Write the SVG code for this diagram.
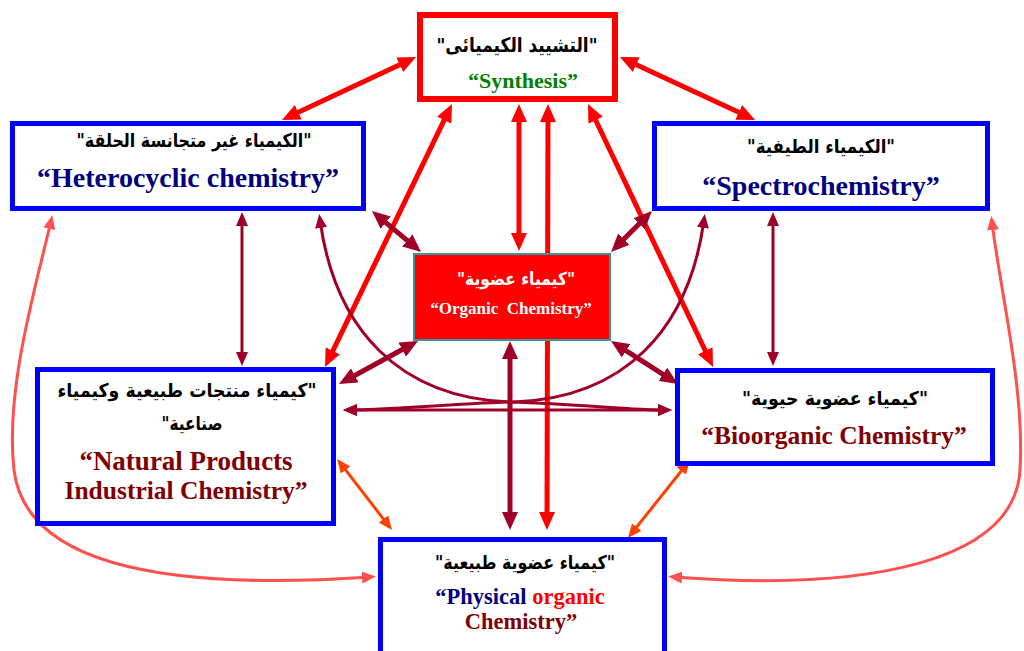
<svg xmlns="http://www.w3.org/2000/svg" width="1024" height="651" viewBox="0 0 1024 651">
<defs>
<marker id="aRed" markerUnits="userSpaceOnUse" markerWidth="18" markerHeight="16" refX="10" refY="8" orient="auto-start-reverse"><path d="M0,0 L18,8 L0,16 z" fill="#FF0000"/></marker>
<marker id="aDk" markerUnits="userSpaceOnUse" markerWidth="18" markerHeight="16" refX="10" refY="8" orient="auto-start-reverse"><path d="M0,0 L18,8 L0,16 z" fill="#A00028"/></marker>
<marker id="aDkS" markerUnits="userSpaceOnUse" markerWidth="14" markerHeight="12" refX="8" refY="6" orient="auto-start-reverse"><path d="M0,0 L14,6 L0,12 z" fill="#A00028"/></marker>
<marker id="aOr" markerUnits="userSpaceOnUse" markerWidth="14" markerHeight="12" refX="8" refY="6" orient="auto-start-reverse"><path d="M0,0 L14,6 L0,12 z" fill="#FF4000"/></marker>
<marker id="aPk" markerUnits="userSpaceOnUse" markerWidth="14" markerHeight="12" refX="8" refY="6" orient="auto-start-reverse"><path d="M0,0 L14,6 L0,12 z" fill="#FF5050"/></marker>
</defs>
<style>
.red{stroke:#FF0000;stroke-width:5;fill:none;marker-start:url(#aRed);marker-end:url(#aRed)}
.dk{stroke:#A00028;stroke-width:5;fill:none;marker-start:url(#aDk);marker-end:url(#aDk)}
.dks{stroke:#A00028;stroke-width:3;fill:none;marker-start:url(#aDkS);marker-end:url(#aDkS)}
.or{stroke:#FF4000;stroke-width:3;fill:none;marker-start:url(#aOr);marker-end:url(#aOr)}
.pk{stroke:#FF5050;stroke-width:3;fill:none;marker-start:url(#aPk);marker-end:url(#aPk)}
.box{fill:#FFFFFF;stroke:#0000FF;stroke-width:5}
.ar{font-family:"DejaVu Sans","Noto Sans",sans-serif;font-weight:bold;text-anchor:middle;direction:rtl;unicode-bidi:embed}
.en{font-family:"Liberation Serif","Times New Roman",serif;font-weight:bold;text-anchor:middle}
</style>
<g id="connectors">
<path class="red" d="M408.8,60.4 L289.2,116.6"/>
<path class="red" d="M627.2,60.4 L747.8,116.6"/>
<path class="red" d="M448.5,111.2 L328.5,359.8"/>
<path class="red" d="M519,112 L519,243"/>
<path class="red" d="M548,112 L547,522"/>
<path class="red" d="M591.4,111.2 L709.6,359.8"/>
<path class="dk" d="M378.1,216.1 L414.9,246.9"/>
<path class="dk" d="M646.3,216.7 L616.7,246.3"/>
<path class="dk" d="M411,344.8 L346,380.2"/>
<path class="dk" d="M617.7,345.3 L671.3,379.7"/>
<path class="dk" d="M510,349 L510,522"/>
<path class="dks" d="M242,218 L242,360"/>
<path class="dks" d="M773,218 L773,360"/>
<path class="dks" d="M349,410 L666,410"/>
<path class="dks" d="M320,220 C335,330 400,398 510,402 C580,404 630,410 666,410"/>
<path class="dks" d="M704,220 C689,330 624,398 514,402 C444,404 394,410 349,410"/>
<path class="or" d="M340.7,463.7 L388.3,525.3"/>
<path class="or" d="M686.3,464.7 L631.7,533.3"/>
<path class="pk" d="M370,577 C150,592 25,560 14,470 C5,390 35,290 51,221"/>
<path class="pk" d="M674,577 C874,592 1015,560 1020,470 C1025,390 1000,290 992,222"/>
</g>
<g id="synthesis">
<rect x="420" y="15" width="195" height="84" fill="#FFFFFF" stroke="#FF0000" stroke-width="6"/>
<text class="ar" x="517" y="52" font-size="20" fill="#000000" textLength="161" lengthAdjust="spacingAndGlyphs">"التشييد الكيميائى"</text>
<text class="en" x="523" y="88" font-size="22" fill="#008000">“Synthesis”</text>
</g>
<g id="heterocyclic">
<rect class="box" x="12.5" y="123.5" width="351" height="85"/>
<text class="ar" x="194" y="147" font-size="19" fill="#000000" textLength="235" lengthAdjust="spacingAndGlyphs">"الكيمياء غير متجانسة الحلقة"</text>
<text class="en" x="188" y="187" font-size="28" fill="#000080">“Heterocyclic chemistry”</text>
</g>
<g id="spectro">
<rect class="box" x="654.5" y="123.5" width="333" height="85"/>
<text class="ar" x="821" y="153" font-size="19" fill="#000000" textLength="148" lengthAdjust="spacingAndGlyphs">"الكيمياء الطيفية"</text>
<text class="en" x="821" y="195" font-size="28" fill="#000080">“Spectrochemistry”</text>
</g>
<g id="organic">
<rect x="414" y="254" width="196" height="86" fill="#FF0000" stroke="#339999" stroke-width="2"/>
<text class="ar" x="516" y="285" font-size="18" fill="#FFFFFF" textLength="118" lengthAdjust="spacingAndGlyphs">"كيمياء عضوية"</text>
<text class="en" x="511" y="314" font-size="17" fill="#FFFFFF" xml:space="preserve">“Organic  Chemistry”</text>
</g>
<g id="natural">
<rect class="box" x="37.5" y="369.5" width="296" height="154"/>
<text class="ar" x="187" y="397" font-size="19" fill="#000000" textLength="259" lengthAdjust="spacingAndGlyphs">"كيمياء منتجات طبيعية وكيمياء</text>
<text class="ar" x="192" y="430" font-size="19" fill="#000000" textLength="61" lengthAdjust="spacingAndGlyphs">صناعية"</text>
<text class="en" x="186" y="470" font-size="27" fill="#800000">“Natural Products</text>
<text class="en" x="186" y="499" font-size="25.5" fill="#800000">Industrial Chemistry”</text>
</g>
<g id="bioorganic">
<rect class="box" x="677.5" y="370.5" width="315" height="93"/>
<text class="ar" x="835" y="405" font-size="19" fill="#000000" textLength="186" lengthAdjust="spacingAndGlyphs">"كيمياء عضوية حيوية"</text>
<text class="en" x="834" y="444" font-size="25.5" fill="#800000">“Bioorganic Chemistry”</text>
</g>
<g id="physical">
<rect class="box" x="380.5" y="539.5" width="284" height="120"/>
<text class="ar" x="525" y="569" font-size="19" fill="#000000" textLength="180" lengthAdjust="spacingAndGlyphs">"كيمياء عضوية طبيعية"</text>
<text class="en" x="520" y="604" font-size="22.5"><tspan fill="#000080">“Physical </tspan><tspan fill="#FF0000">organic</tspan></text>
<text class="en" x="521" y="629" font-size="22.5" fill="#800000">Chemistry”</text>
</g>
</svg>
